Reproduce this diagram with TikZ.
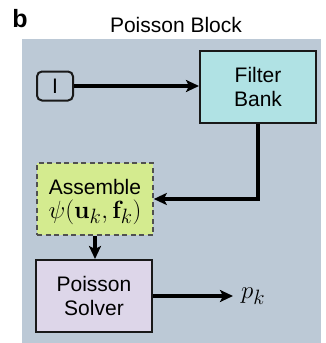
\documentclass[tikz,border=0pt]{standalone}
\usepackage[no-math]{fontspec}
\setmainfont{Liberation Sans}
\usetikzlibrary{arrows.meta}
\definecolor{bgc}{RGB}{188,201,214}
\definecolor{filterc}{RGB}{176,226,228}
\definecolor{asmc}{RGB}{212,235,143}
\definecolor{solvc}{RGB}{221,214,233}
\definecolor{asmline}{RGB}{80,80,80}
\tikzset{
  blockbox/.style={draw=black!90, line width=2pt, minimum width=116pt, minimum height=72pt,
    align=center, inner sep=0pt, font=\fontsize{21}{24}\selectfont},
  flow/.style={line width=3.4pt, -{Stealth[length=13pt,width=12pt,inset=3pt]}},
}
\begin{document}
\begin{tikzpicture}[x=1pt,y=-1pt]
\useasboundingbox (0,0) rectangle (326,343);
\fill[bgc] (22,39) rectangle (321,343);
\node[font=\fontsize{25}{26}\selectfont\bfseries] (lbl) at (20,19) {b};
\node[font=\fontsize{21}{24}\selectfont] (title) at (176,25) {Poisson Block};
\node[draw=black!90, line width=2pt, rounded corners=5pt, minimum width=36pt, minimum height=29pt,
  inner sep=0pt, font=\fontsize{21}{24}\selectfont] (I) at (55,86) {I};
\node[blockbox, fill=filterc] (F) at (258,87) {Filter\\Bank};
\node[blockbox, fill=asmc, draw=asmline, dash pattern=on 5pt off 3.5pt, line width=1.6pt] (A) at (95,199) {};
\node[inner sep=0pt, anchor=base, font=\fontsize{21}{24}\selectfont] (At) at (95,194) {Assemble};
\node[inner sep=0pt, anchor=base, font=\fontsize{27.5}{28}\selectfont] (Am) at (95,218) {$\psi(\mathbf{u}_k,\mathbf{f}_k)$};
\node[blockbox, fill=solvc] (S) at (94,296) {Poisson\\Solver};
\node[anchor=west, inner sep=8pt, font=\fontsize{29}{30}\selectfont] (pk) at (233,296) {$p_k$};
\draw[flow] (I.east) -- (I.east -| F.west);
\draw[flow] (F.south) |- (A.east);
\draw[flow] (A.south) -- (A.south |- S.north);
\draw[flow] (S.east) -- (pk.west);
\end{tikzpicture}
\end{document}
